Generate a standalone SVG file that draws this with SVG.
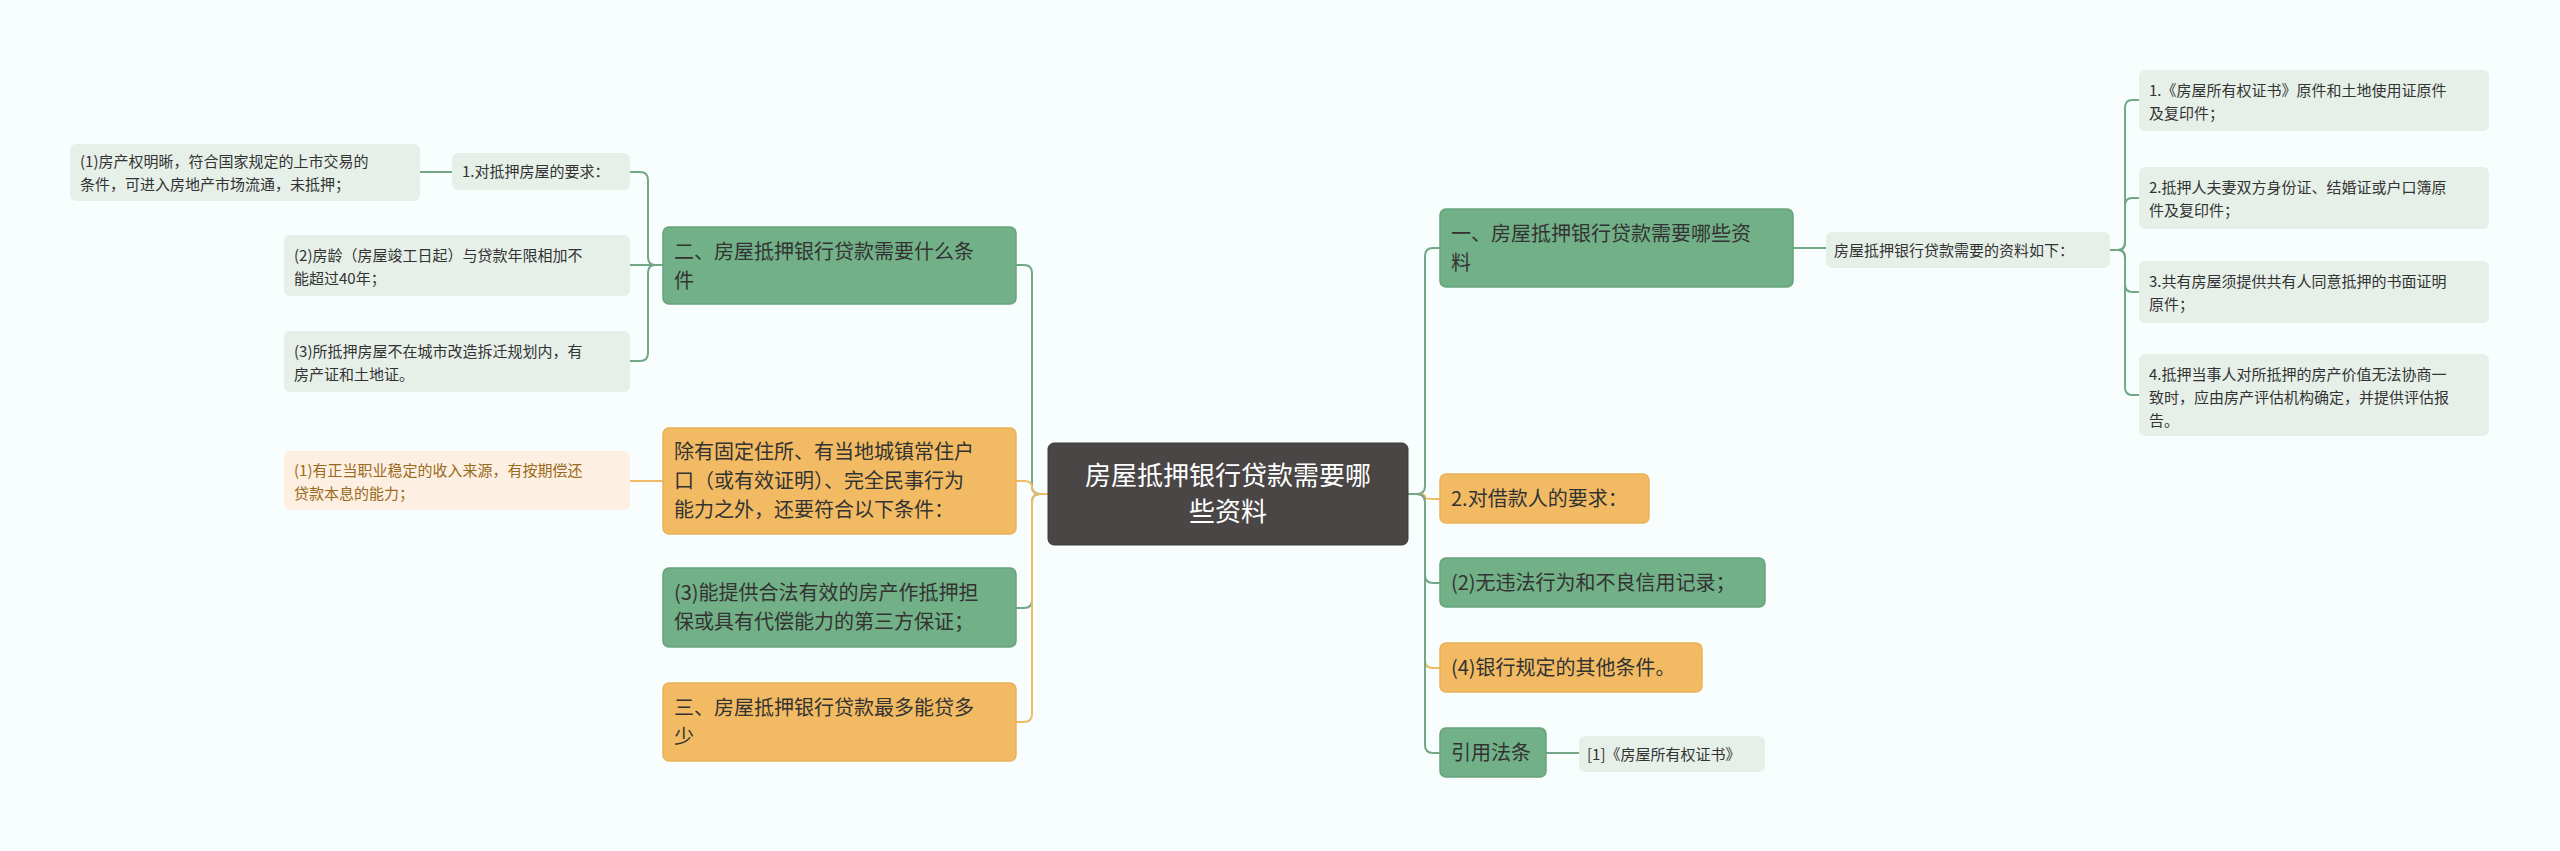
<svg xmlns="http://www.w3.org/2000/svg" width="2560" height="851" viewBox="0 0 2560 851">
<style>
text{font-family:"Noto Sans CJK SC","Noto Sans",sans-serif;}
.g{fill:#72b087;stroke:#67a27b;stroke-width:1.5}
.o{fill:#f2bb63;stroke:#e9b25a;stroke-width:1.5}
.lg{fill:#e6f0e9}
.lo{fill:#fdf0e2}
.t1{font-size:20px;fill:#333}
.t2{font-size:15px;fill:#333}
.t2o{font-size:15px;fill:#9a6a20}
.cg{fill:none;stroke:#72a886;stroke-width:2}
.co{fill:none;stroke:#f0bb66;stroke-width:2}
</style>
<rect width="2560" height="851" fill="#f8fdfd"/>
<g id="connectors">
<path class="cg" d="M1048 494 H1040 Q1032 494 1032 486 V273 Q1032 265 1024 265 H1016"/>
<path class="co" d="M1048 494 H1040 Q1032 494 1032 488 V487 Q1032 481 1024 481 H1016"/>
<path class="cg" d="M1048 494 H1040 Q1032 494 1032 502 V600 Q1032 608 1024 608 H1016"/>
<path class="co" d="M1048 494 H1040 Q1032 494 1032 502 V714 Q1032 722 1024 722 H1016"/>
<path class="cg" d="M663 265 H655 Q648 265 648 257 V180 Q648 172 640 172 H630"/>
<path class="cg" d="M663 265 H630"/>
<path class="cg" d="M663 265 H655 Q648 265 648 273 V353 Q648 361 640 361 H630"/>
<path class="cg" d="M452 172 H420"/>
<path class="co" d="M663 481 H630"/>
<path class="cg" d="M1408 494 H1417 Q1425 494 1425 486 V256 Q1425 248 1433 248 H1440"/>
<path class="co" d="M1408 494 H1417 Q1425 494 1425 496 V497 Q1425 499 1433 499 H1440"/>
<path class="cg" d="M1408 494 H1417 Q1425 494 1425 502 V575 Q1425 583 1433 583 H1440"/>
<path class="co" d="M1408 494 H1417 Q1425 494 1425 502 V660 Q1425 668 1433 668 H1440"/>
<path class="cg" d="M1408 494 H1417 Q1425 494 1425 502 V745 Q1425 753 1433 753 H1440"/>
<path class="cg" d="M1793 248 H1826"/>
<path class="cg" d="M1546 753 H1579"/>
<path class="cg" d="M2110 250 H2118 Q2125 250 2125 242 V108 Q2125 100 2132 100 H2139"/>
<path class="cg" d="M2110 250 H2118 Q2125 250 2125 242 V206 Q2125 198 2132 198 H2139"/>
<path class="cg" d="M2110 250 H2118 Q2125 250 2125 258 V284 Q2125 292 2132 292 H2139"/>
<path class="cg" d="M2110 250 H2118 Q2125 250 2125 258 V387 Q2125 395 2132 395 H2139"/>
</g>
<g id="center"><rect x="1048" y="443" width="360" height="102" rx="6" fill="#4a4646" stroke="#3d3a3a"/>
<text x="1228" y="485" text-anchor="middle" font-size="26" fill="#fff">房屋抵押银行贷款需要哪</text>
<text x="1228" y="521" text-anchor="middle" font-size="26" fill="#fff">些资料</text></g>
<g id="n2"><rect class="g" x="663" y="227" width="353" height="77" rx="6"/>
<text class="t1" x="674" y="259">二、房屋抵押银行贷款需要什么条</text><text class="t1" x="674" y="288">件</text></g>
<g id="n3"><rect class="o" x="663" y="428" width="353" height="106" rx="6"/>
<text class="t1" x="674" y="459">除有固定住所、有当地城镇常住户</text><text class="t1" x="674" y="488">口（或有效证明）、完全民事行为</text><text class="t1" x="674" y="517">能力之外，还要符合以下条件：</text></g>
<g id="n4"><rect class="g" x="663" y="568" width="353" height="79" rx="6"/>
<text class="t1" x="674" y="600">(3)能提供合法有效的房产作抵押担</text><text class="t1" x="674" y="629">保或具有代偿能力的第三方保证；</text></g>
<g id="n5"><rect class="o" x="663" y="683" width="353" height="78" rx="6"/>
<text class="t1" x="674" y="715">三、房屋抵押银行贷款最多能贷多</text><text class="t1" x="674" y="744">少</text></g>
<g id="l1"><rect class="lg" x="452" y="153" width="178" height="37" rx="6"/><text class="t2" x="462" y="177">1.对抵押房屋的要求：</text></g>
<g id="l11"><rect class="lg" x="70" y="144" width="350" height="57" rx="6"/>
<text class="t2" x="80" y="167">(1)房产权明晰，符合国家规定的上市交易的</text><text class="t2" x="80" y="190">条件，可进入房地产市场流通，未抵押；</text></g>
<g id="l2"><rect class="lg" x="284" y="235" width="346" height="61" rx="6"/>
<text class="t2" x="294" y="261">(2)房龄（房屋竣工日起）与贷款年限相加不</text><text class="t2" x="294" y="284">能超过40年；</text></g>
<g id="l3"><rect class="lg" x="284" y="331" width="346" height="61" rx="6"/>
<text class="t2" x="294" y="357">(3)所抵押房屋不在城市改造拆迁规划内，有</text><text class="t2" x="294" y="380">房产证和土地证。</text></g>
<g id="l4"><rect class="lo" x="284" y="451" width="346" height="59" rx="6"/>
<text class="t2o" x="294" y="476">(1)有正当职业稳定的收入来源，有按期偿还</text><text class="t2o" x="294" y="499">贷款本息的能力；</text></g>
<g id="r1"><rect class="g" x="1440" y="209" width="353" height="78" rx="6"/>
<text class="t1" x="1451" y="241">一、房屋抵押银行贷款需要哪些资</text><text class="t1" x="1451" y="270">料</text></g>
<g id="r1a"><rect class="lg" x="1826" y="232" width="284" height="36" rx="6"/><text class="t2" x="1834" y="256">房屋抵押银行贷款需要的资料如下：</text></g>
<g id="ra1"><rect class="lg" x="2139" y="70" width="350" height="61" rx="6"/>
<text class="t2" x="2149" y="96">1.《房屋所有权证书》原件和土地使用证原件</text><text class="t2" x="2149" y="119">及复印件；</text></g>
<g id="ra2"><rect class="lg" x="2139" y="167" width="350" height="62" rx="6"/>
<text class="t2" x="2149" y="193">2.抵押人夫妻双方身份证、结婚证或户口簿原</text><text class="t2" x="2149" y="216">件及复印件；</text></g>
<g id="ra3"><rect class="lg" x="2139" y="261" width="350" height="62" rx="6"/>
<text class="t2" x="2149" y="287">3.共有房屋须提供共有人同意抵押的书面证明</text><text class="t2" x="2149" y="310">原件；</text></g>
<g id="ra4"><rect class="lg" x="2139" y="354" width="350" height="82" rx="6"/>
<text class="t2" x="2149" y="380">4.抵押当事人对所抵押的房产价值无法协商一</text><text class="t2" x="2149" y="403">致时，应由房产评估机构确定，并提供评估报</text><text class="t2" x="2149" y="426">告。</text></g>
<g id="r2"><rect class="o" x="1440" y="474" width="209" height="49" rx="6"/><text class="t1" x="1451" y="506">2.对借款人的要求：</text></g>
<g id="r3"><rect class="g" x="1440" y="558" width="325" height="49" rx="6"/><text class="t1" x="1451" y="590">(2)无违法行为和不良信用记录；</text></g>
<g id="r4"><rect class="o" x="1440" y="643" width="262" height="49" rx="6"/><text class="t1" x="1451" y="675">(4)银行规定的其他条件。</text></g>
<g id="r5"><rect class="g" x="1440" y="728" width="106" height="49" rx="6"/><text class="t1" x="1451" y="760">引用法条</text></g>
<g id="r5a"><rect class="lg" x="1579" y="736" width="186" height="36" rx="6"/><text class="t2" x="1587" y="760">[1]《房屋所有权证书》</text></g>
</svg>
